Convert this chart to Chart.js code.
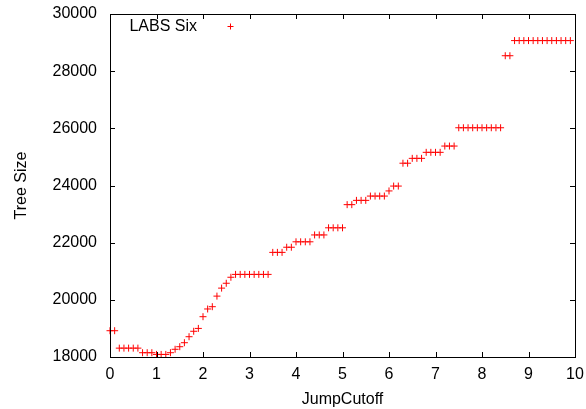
<!DOCTYPE html>
<html>
<head>
<meta charset="utf-8">
<script src="https://cdn.jsdelivr.net/npm/chart.js@4/dist/chart.umd.min.js"></script>
<style>
  html, body { margin: 0; padding: 0; background: #fff; }
</style>
</head>
<body>
<canvas id="chart" width="586" height="409"></canvas>
<script>
// JumpCutoff values (x) and tree sizes (y)
const jumpCutoff = [
    0.0, 0.1, 0.2, 0.3, 0.4, 0.5, 0.6, 0.7, 0.8, 0.9,
    1.0, 1.1, 1.2, 1.3, 1.4, 1.5, 1.6, 1.7, 1.8, 1.9,
    2.0, 2.1, 2.2, 2.3, 2.4, 2.5, 2.6, 2.7, 2.8, 2.9,
    3.0, 3.1, 3.2, 3.3, 3.4, 3.5, 3.6, 3.7, 3.8, 3.9,
    4.0, 4.1, 4.2, 4.3, 4.4, 4.5, 4.6, 4.7, 4.8, 4.9,
    5.0, 5.1, 5.2, 5.3, 5.4, 5.5, 5.6, 5.7, 5.8, 5.9,
    6.0, 6.1, 6.2, 6.3, 6.4, 6.5, 6.6, 6.7, 6.8, 6.9,
    7.0, 7.1, 7.2, 7.3, 7.4, 7.5, 7.6, 7.7, 7.8, 7.9,
    8.0, 8.1, 8.2, 8.3, 8.4, 8.5, 8.6, 8.7, 8.8, 8.9,
    9.0, 9.1, 9.2, 9.3, 9.4, 9.5, 9.6, 9.7, 9.8, 9.9
];
const treeSize = [
    18920, 18920, 18310, 18310, 18310, 18310, 18310, 18150, 18150, 18150,
    18090, 18090, 18090, 18150, 18270, 18360, 18500, 18710, 18900, 19000,
    19410, 19680, 19760, 20130, 20410, 20580, 20790, 20890, 20890, 20890,
    20890, 20890, 20890, 20890, 20890, 21660, 21660, 21660, 21840, 21840,
    22030, 22030, 22030, 22030, 22270, 22270, 22270, 22520, 22520, 22520,
    22520, 23330, 23330, 23480, 23480, 23480, 23630, 23630, 23630, 23630,
    23810, 23980, 23980, 24780, 24780, 24950, 24950, 24950, 25160, 25160,
    25160, 25160, 25380, 25380, 25380, 26020, 26020, 26020, 26020, 26020,
    26020, 26020, 26020, 26020, 26020, 28540, 28540, 29070, 29070, 29070,
    29070, 29070, 29070, 29070, 29070, 29070, 29070, 29070, 29070, 29070
];
const seriesLabel = 'LABS Six';
const xTicks = [0, 1, 2, 3, 4, 5, 6, 7, 8, 9, 10];
const yTicks = [18000, 20000, 22000, 24000, 26000, 28000, 30000];

Chart.defaults.font.family = '"Liberation Sans", Arial, sans-serif';
Chart.defaults.font.size = 16;
Chart.defaults.color = '#000';

// gnuplot style frame, inward ticks and the key
const framePlugin = {
    id: 'frame',
    afterDraw(chart) {
        const { ctx, chartArea: a, scales: { x, y } } = chart;
        const len = 5;
        ctx.save();
        ctx.strokeStyle = '#000';
        ctx.lineWidth = 1;
        ctx.strokeRect(a.left + 0.5, a.top + 0.5, a.right - a.left, a.bottom - a.top);
        ctx.beginPath();
        xTicks.forEach(v => {
            const px = Math.round(x.getPixelForValue(v)) + 0.5;
            ctx.moveTo(px, a.bottom); ctx.lineTo(px, a.bottom - len);
            ctx.moveTo(px, a.top); ctx.lineTo(px, a.top + len);
        });
        yTicks.forEach(v => {
            const py = Math.round(y.getPixelForValue(v)) + 0.5;
            ctx.moveTo(a.left, py); ctx.lineTo(a.left + len, py);
            ctx.moveTo(a.right, py); ctx.lineTo(a.right - len, py);
        });
        ctx.stroke();

        // key
        ctx.font = '16px "Liberation Sans", Arial, sans-serif';
        ctx.fillStyle = '#000';
        ctx.textAlign = 'right';
        ctx.textBaseline = 'middle';
        ctx.fillText(seriesLabel, a.left + 87, a.top + 13);
        const kx = a.left + 120.5, ky = a.top + 12.5;
        ctx.strokeStyle = '#ff0000';
        ctx.beginPath();
        ctx.moveTo(kx - 3, ky); ctx.lineTo(kx + 3, ky);
        ctx.moveTo(kx, ky - 3); ctx.lineTo(kx, ky + 3);
        ctx.stroke();
        ctx.restore();
    }
};

new Chart(document.getElementById('chart').getContext('2d'), {
    type: 'scatter',
    data: {
        datasets: [{
            label: seriesLabel,
            data: jumpCutoff.map((v, i) => ({ x: v, y: treeSize[i] })),
            pointStyle: 'cross',
            pointRadius: 3.5,
            pointBorderWidth: 1,
            borderColor: '#ff0000',
            backgroundColor: '#ff0000',
            clip: false
        }]
    },
    options: {
        responsive: false,
        animation: false,
        layout: { padding: { top: 14, right: 11, left: 0, bottom: 0 } },
        plugins: {
            legend: { display: false },
            tooltip: { enabled: false }
        },
        scales: {
            x: {
                type: 'linear',
                min: 0,
                max: 10,
                afterBuildTicks: scale => { scale.ticks = xTicks.map(v => ({ value: v })); },
                afterFit: scale => {
                    scale.height = 52;
                    scale.paddingLeft = 0;
                    scale.paddingRight = 0;
                },
                grid: { display: false, drawTicks: false },
                border: { display: false },
                ticks: { padding: 8, maxRotation: 0, callback: v => String(v) },
                title: { display: true, text: 'JumpCutoff', padding: { top: 0, bottom: 0 } }
            },
            y: {
                type: 'linear',
                min: 18000,
                max: 30000,
                afterBuildTicks: scale => { scale.ticks = yTicks.map(v => ({ value: v })); },
                afterFit: scale => {
                    scale.width = 110;
                    scale.paddingTop = 0;
                    scale.paddingBottom = 0;
                },
                grid: { display: false, drawTicks: false },
                border: { display: false },
                ticks: { padding: 13, callback: v => String(v) },
                title: { display: true, text: 'Tree Size', padding: { top: 12, bottom: 0 } }
            }
        }
    },
    plugins: [framePlugin]
});
</script>
</body>
</html>
